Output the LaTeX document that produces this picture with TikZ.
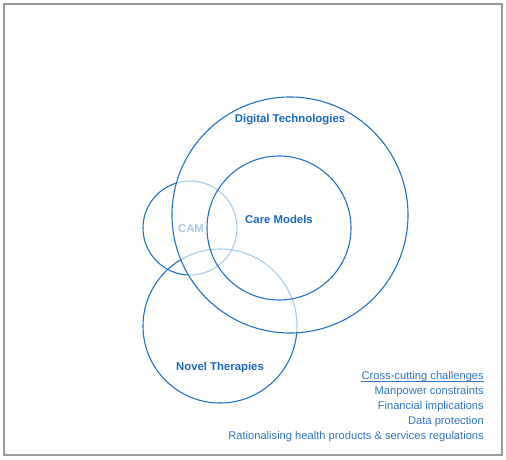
\documentclass[tikz,border=0pt]{standalone}
\usepackage{fontspec}
\setmainfont{Liberation Sans}
\definecolor{dblue}{HTML}{1F72C4}
\definecolor{lblue}{HTML}{A9CBEA}
\definecolor{tblue}{HTML}{1769BA}
\definecolor{legblue}{HTML}{2F76BE}
\definecolor{frame}{HTML}{9A9A9A}
\tikzset{
  ring/.style={line width=1.1pt},
  lbl/.style={font=\fontsize{11.4}{12}\selectfont\bfseries, text=tblue, inner sep=0pt},
  leg/.style={font=\fontsize{11.2}{12}\selectfont, text=legblue, anchor=east, inner sep=0pt}
}
\begin{document}
\begin{tikzpicture}[x=1bp,y=-1bp]
\useasboundingbox (0,0) rectangle (506,460);
\fill[white] (0,0) rectangle (506,460);
\draw[frame, line width=1.6bp] (4,4) rectangle (502,455);
% circle centres
\coordinate (dtc) at (290,215);
\coordinate (cmc) at (279,228);
\coordinate (camc) at (190,228);
\coordinate (ntc) at (220,326);
% CAM and Novel Therapies: light inside Digital Technologies, dark outside
\begin{scope}
  \clip (dtc) circle (118);
  \draw[ring, lblue] (camc) circle (47);
  \draw[ring, lblue] (ntc) circle (77);
\end{scope}
\begin{scope}[even odd rule]
  \clip (0,0) rectangle (506,460) (dtc) circle (118);
  \draw[ring, dblue] (camc) circle (47);
  \draw[ring, dblue] (ntc) circle (77);
\end{scope}
\draw[ring, dblue] (dtc) circle (118);
\draw[ring, dblue] (cmc) circle (72);
% labels
\node[lbl] (dt) at (290,120) {Digital Technologies};
\node[lbl] (cm) at (279,219) {Care Models};
\node[lbl, text=lblue] (cam) at (191,229) {CAM};
\node[lbl] (nt) at (220,368) {Novel Therapies};
% legend
\node[leg] (l1) at (484,377) {Cross-cutting challenges};
\draw[legblue, line width=0.6bp] ([yshift=-1.6bp]l1.base west) -- ([yshift=-1.6bp]l1.base east);
\node[leg] (l2) at (484,392) {Manpower constraints};
\node[leg] (l3) at (484,407) {Financial implications};
\node[leg] (l4) at (484,422) {Data protection};
\node[leg] (l5) at (484,437) {Rationalising health products \& services regulations};
\end{tikzpicture}
\end{document}
